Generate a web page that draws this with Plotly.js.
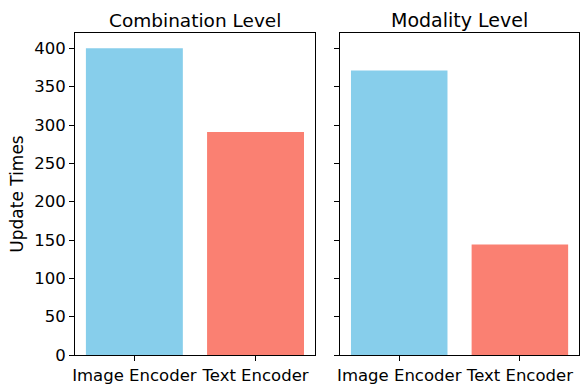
<!DOCTYPE html>
<html>
<head>
<meta charset="utf-8">
<script src="https://cdn.plot.ly/plotly-3.0.1.min.js"></script>
<style>
  html, body { margin: 0; padding: 0; background: #fff; }
  #chart { width: 588px; height: 390px; }
</style>
</head>
<body>
<div id="chart"></div>
<script>
// update counts per encoder
const encoders = ["Image Encoder", "Text Encoder"];
const combinationCounts = [400, 291];
const modalityCounts = [371, 144];
const barColors = ["#87ceeb", "#fa8072"];
const panelTitles = ["Combination Level", "Modality Level"];
const yTicks = [0, 50, 100, 150, 200, 250, 300, 350, 400];

const FONT = "DejaVu Sans, sans-serif";

const axisBase = {
  showline: true,
  mirror: true,
  linecolor: "#000",
  linewidth: 1,
  ticks: "outside",
  ticklen: 5,
  tickwidth: 1,
  tickcolor: "#000",
  showgrid: false,
  zeroline: false,
  tickfont: { family: FONT, size: 16.5, color: "#000" },
};

const traces = [
  {
    x: encoders, y: combinationCounts, type: "bar",
    marker: { color: barColors }, xaxis: "x", yaxis: "y",
  },
  {
    x: encoders, y: modalityCounts, type: "bar",
    marker: { color: barColors }, xaxis: "x2", yaxis: "y2",
  },
];

const yRange = [0, 420];
const xRange = [-0.49, 1.49];

const layout = {
  width: 588,
  height: 390,
  paper_bgcolor: "#fff",
  plot_bgcolor: "#fff",
  showlegend: false,
  bargap: 0.2,
  margin: { l: 75, r: 9, t: 33, b: 35 },
  xaxis: { ...axisBase, domain: [0, 0.476], range: xRange, type: "category" },
  xaxis2: { ...axisBase, domain: [0.526, 1], range: xRange, type: "category", anchor: "y2" },
  yaxis: {
    ...axisBase, range: yRange, tickvals: yTicks,
    title: { text: "Update Times", font: { family: FONT, size: 17, color: "#000" }, standoff: 6 },
  },
  yaxis2: { ...axisBase, range: yRange, tickvals: yTicks, showticklabels: false, anchor: "x2" },
  annotations: [
    {
      text: panelTitles[0], xref: "paper", yref: "paper", x: 0.238, y: 1,
      xanchor: "center", yanchor: "bottom", yshift: 0, showarrow: false,
      font: { family: FONT, size: 18.5, color: "#000" },
    },
    {
      text: panelTitles[1], xref: "paper", yref: "paper", x: 0.763, y: 1,
      xanchor: "center", yanchor: "bottom", yshift: 0, showarrow: false,
      font: { family: FONT, size: 19, color: "#000" },
    },
  ],
};

Plotly.newPlot("chart", traces, layout, { displayModeBar: false, staticPlot: true });
</script>
</body>
</html>
